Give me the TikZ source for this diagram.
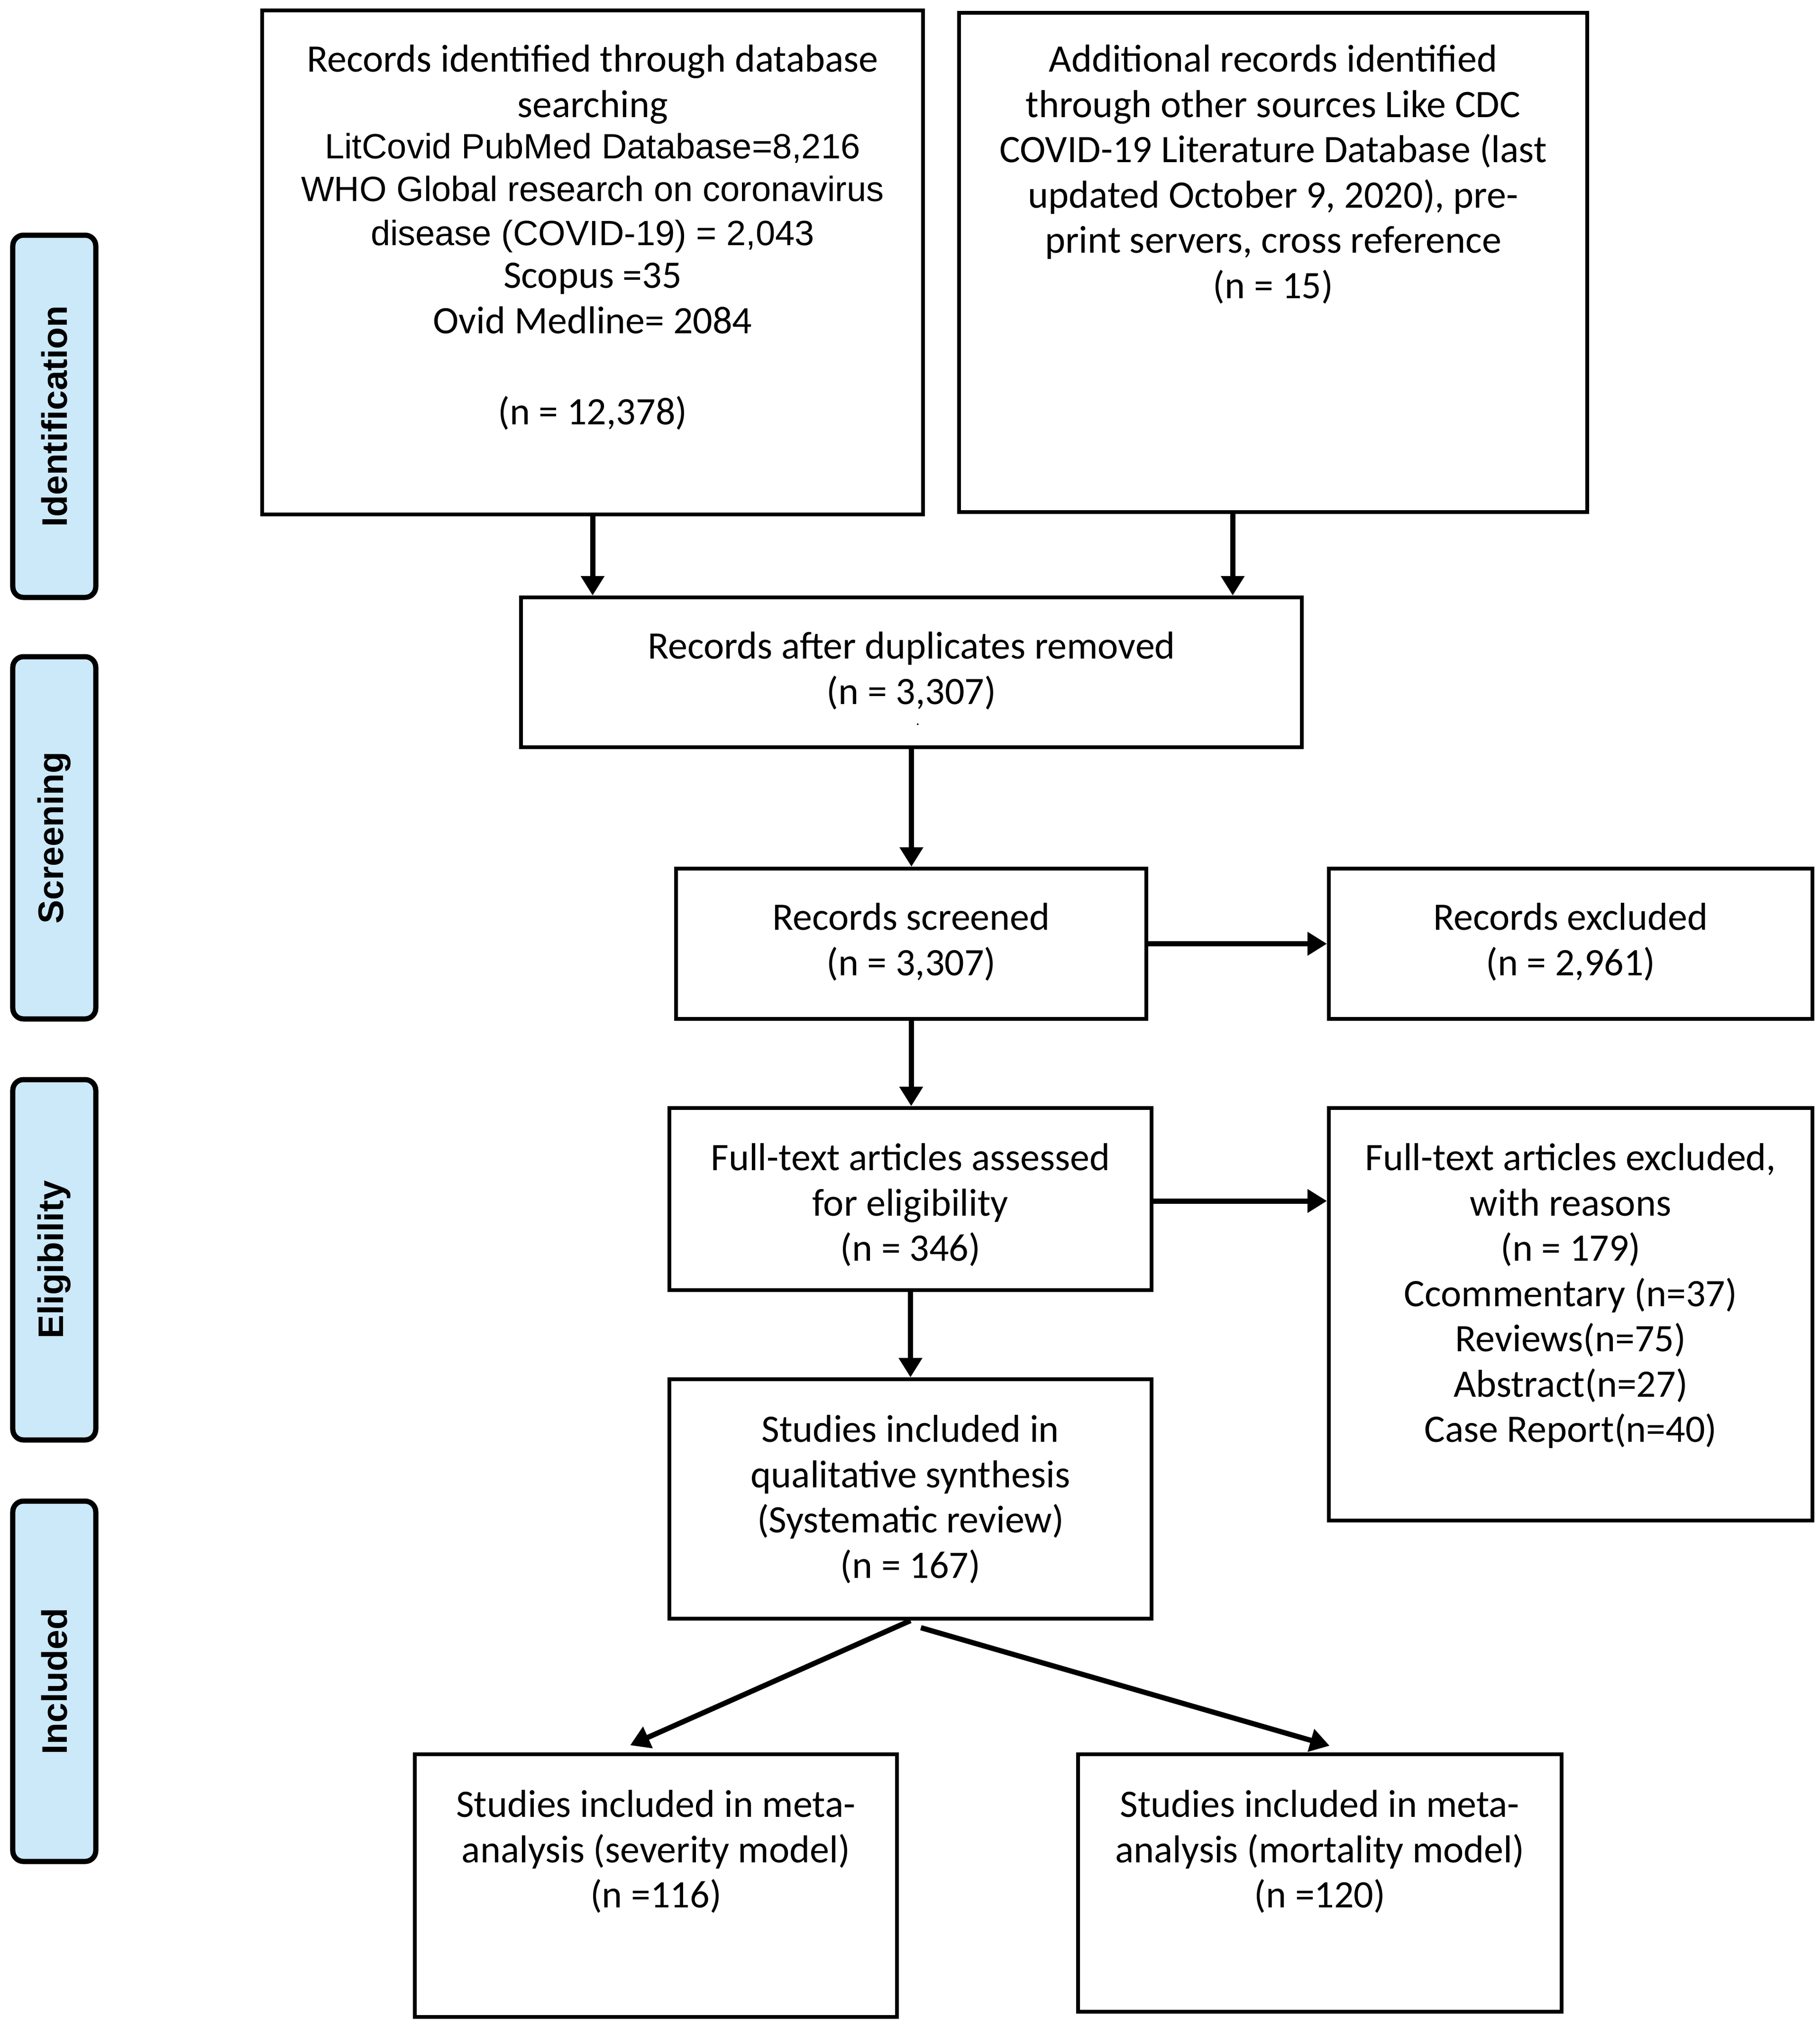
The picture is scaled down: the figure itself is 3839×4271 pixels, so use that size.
\documentclass[tikz,border=0pt]{standalone}
\usepackage{fontspec}
\setmainfont{Carlito}
\newfontfamily\arialf{Liberation Sans}
\usetikzlibrary{arrows.meta,calc}
\definecolor{sidefill}{RGB}{204,233,250}
\newcommand{\arl}{\arialf\fontsize{14.8}{18.2}\selectfont}
\tikzset{
 box/.style={draw=black, line width=1.6pt, rectangle, inner sep=0pt},
 txt/.style={align=center, inner sep=0pt, anchor=north, font=\fontsize{16.4}{19.1}\selectfont},
 side/.style={draw=black, line width=2.2pt, fill=sidefill, rounded corners=4.5pt, minimum width=35pt, inner sep=0pt},
 sidetxt/.style={font=\arialf\bfseries\fontsize{15}{18}\selectfont, rotate=90, inner sep=0pt},
 arr/.style={line width=2.2pt, -{Triangle[length=8.2pt,width=9.5pt]}},
}
\begin{document}
\begin{tikzpicture}[x=0.2pt,y=-0.2pt]
\useasboundingbox (0,0) rectangle (3839,4271);
% side labels
\node[side, minimum height=152.8pt] (s1) at (114.5,878) {};
\node[sidetxt] (s1t) at (s1) {Identification};
\node[side, minimum height=152.8pt] (s2) at (114.5,1767) {};
\node[sidetxt] (s2t) at (s2) {Screening};
\node[side, minimum height=152pt] (s3) at (114.5,2657) {};
\node[sidetxt] (s3t) at (s3) {Eligibility};
\node[side, minimum height=152pt] (s4) at (114.5,3546) {};
\node[sidetxt] (s4t) at (s4) {Included};
% boxes
\node[box, minimum width=278.8pt, minimum height=212.6pt] (b1) at (1250,553.5) {};
\node[txt] (b1t) at (1250,94) {Records identified through database\\searching\\[-1.6pt]
{\arl LitCovid PubMed Database=8,216}\\[-1.1pt]
{\arl WHO Global research on coronavirus}\\[-0.5pt]
{\arl disease (COVID-19) = 2,043}\\[-1.1pt]
Scopus =35\\Ovid Medline= 2084\\[19.3pt](n = 12,378)};
\node[box, minimum width=265pt, minimum height=210.6pt] (b2) at (2685.5,553.5) {};
\node[txt] (b2t) at (2685.5,94) {Additional records identified\\through other sources Like CDC\\COVID-19 Literature Database (last\\updated October 9, 2020), pre-\\print servers, cross reference\\(n = 15)};
\node[box, minimum width=329.4pt, minimum height=63.2pt] (b3) at (1922.5,1418) {};
\node[txt] (b3t) at (1922.5,1332) {Records after duplicates removed\\(n = 3,307)};
\node[font=\fontsize{6}{6}\selectfont, inner sep=0pt] (b3dot) at (1936,1528) {.};
\node[box, minimum width=198.4pt, minimum height=63.4pt] (b4) at (1922,1990.5) {};
\node[txt] (b4t) at (1922,1904) {Records screened\\(n = 3,307)};
\node[box, minimum width=204pt, minimum height=63.4pt] (b5) at (3313,1990.5) {};
\node[txt] (b5t) at (3313,1904) {Records excluded\\(n = 2,961)};
\node[box, minimum width=203.4pt, minimum height=76.8pt] (b6) at (1920.5,2529) {};
\node[txt] (b6t) at (1920.5,2411) {Full-text articles assessed\\for eligibility\\(n = 346)};
\node[box, minimum width=204pt, minimum height=174pt] (b7) at (3313,2772) {};
\node[txt] (b7t) at (3313,2411) {Full-text articles excluded,\\with reasons\\(n = 179)\\Ccommentary (n=37)\\Reviews(n=75)\\Abstract(n=27)\\Case Report(n=40)};
\node[box, minimum width=203.4pt, minimum height=101pt] (b8) at (1920.5,3161.5) {};
\node[txt] (b8t) at (1920.5,2984) {Studies included in\\qualitative synthesis\\(Systematic review)\\(n = 167)};
\node[box, minimum width=203.4pt, minimum height=110.8pt] (b9) at (1383.5,3977) {};
\node[txt] (b9t) at (1383.5,3775) {Studies included in meta-\\analysis (severity model)\\(n =116)};
\node[box, minimum width=204pt, minimum height=108.6pt] (b10) at (2784,3971.5) {};
\node[txt] (b10t) at (2784,3775) {Studies included in meta-\\analysis (mortality model)\\(n =120)};
% connectors
\draw[arr] (b1.south) -- (b1.south |- b3.north);
\coordinate (b2o) at ($(b2.south west)!0.436!(b2.south east)$);
\draw[arr] (b2o) -- (b2o |- b3.north);
\draw[arr] (b3.south) -- (b3.south |- b4.north);
\draw[arr] (b4.east) -- (b4.east -| b5.west);
\draw[arr] (b4.south) -- (b4.south |- b6.north);
\coordinate (b6o) at ($(b6.east)+(0,4)$);
\draw[arr] (b6o) -- (b6o -| b7.west);
\draw[arr] (b6.south) -- (b6.south |- b8.north);
\coordinate (b9in) at ($(b9.north west)!0.447!(b9.north east)+(0,-15)$);
\draw[arr] (b8.south) -- (b9in);
\coordinate (b8r) at ($(b8.south)+(22,15)$);
\coordinate (b10in) at ($(b10.north west)!0.52!(b10.north east)+(0,-14)$);
\draw[arr] (b8r) -- (b10in);
\end{tikzpicture}
\end{document}
